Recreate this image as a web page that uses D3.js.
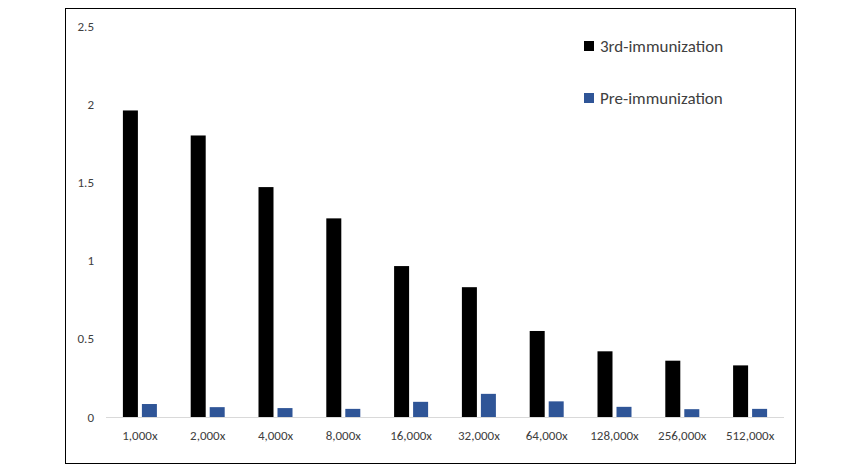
<!DOCTYPE html>
<html><head><meta charset="utf-8">
<script src="https://cdn.jsdelivr.net/npm/d3@7"></script>
<style>body{margin:0;background:#fff}text{font-family:Calibri,Carlito,"Liberation Sans",sans-serif}</style>
</head><body><svg id="chart" width="860" height="472"></svg>
<script>
const categories = ['1,000x','2,000x','4,000x','8,000x','16,000x','32,000x','64,000x','128,000x','256,000x','512,000x'];
const third = [1.96,1.80,1.47,1.27,0.965,0.83,0.55,0.42,0.36,0.33];
const pre = [0.083,0.063,0.057,0.052,0.097,0.148,0.1,0.065,0.05,0.052];
const yTicks = [0,0.5,1,1.5,2,2.5];
const series = [{name:'3rd-immunization', values:third, color:'#000000'},
                {name:'Pre-immunization', values:pre, color:'#2f5597'}];

const svg = d3.select('#chart');
svg.append('rect').attr('x',65.5).attr('y',8.5).attr('width',730).attr('height',455)
   .attr('fill','none').attr('stroke','#000');

const x = d3.scaleBand().domain(categories).range([106,784]);
const y = d3.scaleLinear().domain([0,2.5]).range([417,26]);
const bw = 15, gap = 4;

svg.append('line').attr('x1',106).attr('x2',784).attr('y1',417.5).attr('y2',417.5).attr('stroke','#d9d9d9');

svg.append('g').selectAll('text').data(yTicks).join('text')
  .attr('x',94).attr('y',d=>y(d)).attr('dy','0.35em').attr('text-anchor','end')
  .attr('font-size',13).attr('fill','#404040').text(d=>d);

svg.append('g').selectAll('text').data(categories).join('text')
  .attr('x',d=>x(d)+x.bandwidth()/2).attr('y',440).attr('text-anchor','middle')
  .attr('font-size',13).attr('fill','#404040').text(d=>d);

series.forEach((s,si)=>{
  svg.append('g').selectAll('rect').data(s.values).join('rect')
    .attr('x',(d,i)=>x(categories[i])+x.bandwidth()/2 + (si===0 ? -bw-gap/2 : gap/2))
    .attr('y',d=>y(d)).attr('width',bw).attr('height',d=>y(0)-y(d)).attr('fill',s.color);
});

const leg = svg.append('g').selectAll('g').data(series).join('g')
  .attr('transform',(d,i)=>`translate(584,${46+i*52})`);
leg.append('rect').attr('x',0).attr('y',-5).attr('width',10).attr('height',10).attr('fill',d=>d.color);
leg.append('text').attr('x',16).attr('dy','0.35em').attr('font-size',17).attr('fill','#404040').text(d=>d.name);
</script></body></html>
